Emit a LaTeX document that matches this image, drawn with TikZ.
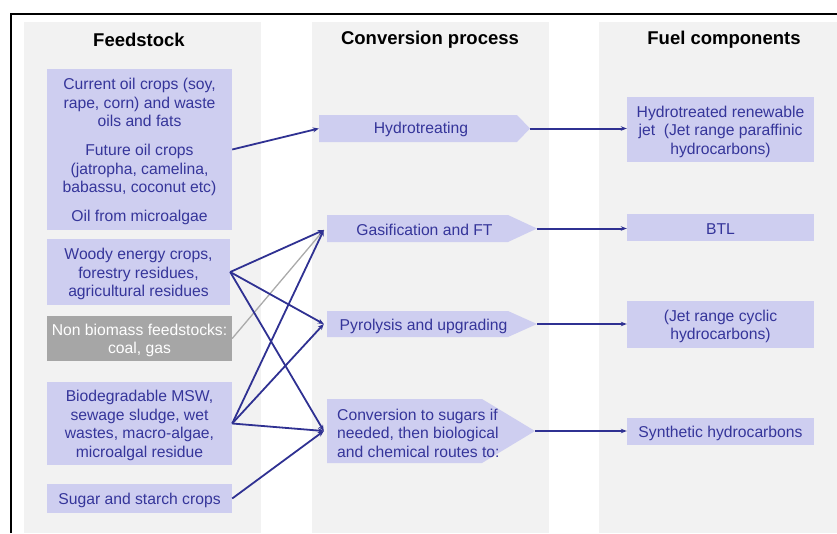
\documentclass[tikz,border=0pt]{standalone}
\usepackage{fontspec}
\setmainfont{Liberation Sans}
\usetikzlibrary{arrows.meta}
\definecolor{colbg}{HTML}{F2F2F2}
\definecolor{lav}{HTML}{CECEF0}
\definecolor{txtblue}{HTML}{35359A}
\definecolor{lineblue}{HTML}{2F3192}
\definecolor{nbgray}{HTML}{A6A6A6}
\definecolor{lgray}{HTML}{AAAAAA}
\begin{document}
\begin{tikzpicture}[x=1pt,y=-1pt,
  every node/.style={font=\fontsize{15.7}{18.5}\selectfont, inner sep=0pt},
  coltitle/.style={font=\bfseries\fontsize{18.5}{21}\selectfont, text=black},
  fbox/.style={fill=lav},
  nbbox/.style={fill=nbgray},
  ftxt/.style={text=txtblue, align=center, yshift=-2pt, inner sep=0pt},
  nbtxt/.style={text=white, align=center, yshift=-2pt, inner sep=0pt},
  ptext/.style={text=txtblue, align=left},
  pent/.style={path picture={\fill[lav] (path picture bounding box.south west) -- (path picture bounding box.north west) -- ([xshift=-#1]path picture bounding box.north east) -- (path picture bounding box.east) -- ([xshift=-#1]path picture bounding box.south east) -- cycle;}},
  conn/.style={draw=lineblue, line width=1.8pt, -{Stealth[length=6pt,width=5pt]}},
  flowconn/.style={draw=lineblue, line width=2pt, -{Stealth[length=6pt,width=4.5pt]}},
  grayconn/.style={draw=lgray, line width=1.3pt}
]
\useasboundingbox (0,0) rectangle (837,533);
% column backgrounds
\fill[colbg] (24,22) rectangle (261,533);
\fill[colbg] (312,22) rectangle (549,533);
\fill[colbg] (599,22) rectangle (837,533);
% frame
\draw[line width=2pt] (11,533) -- (11,14) -- (837,14);

% titles
\node[coltitle] (t1) at (139,40) {Feedstock};
\node[coltitle] (t2) at (430,40) {Conversion process};
\node[coltitle] (t3) at (724,40) {Fuel components};

% feedstock boxes
\node[fbox, minimum width=185pt, minimum height=161pt,
  label={[ftxt]center:{Current oil crops (soy,\\ rape, corn) and waste\\ oils and fats\\[10.5pt]
   Future oil crops\\ (jatropha, camelina,\\ babassu, coconut etc)\\[10.5pt]
   Oil from microalgae}}] (f1) at (139.5,149.5) {};
\node[fbox, minimum width=183pt, minimum height=66pt,
  label={[ftxt]center:{Woody energy crops,\\ forestry residues,\\ agricultural residues}}] (f2) at (138.5,272) {};
\node[nbbox, minimum width=185pt, minimum height=45pt,
  label={[nbtxt]center:{Non biomass feedstocks:\\ coal, gas}}] (f3) at (139.5,338.5) {};
\node[fbox, minimum width=185pt, minimum height=83pt,
  label={[ftxt]center:{Biodegradable MSW,\\ sewage sludge, wet\\ wastes, macro-algae,\\ microalgal residue}}] (f4) at (139.5,423.5) {};
\node[fbox, minimum width=185pt, minimum height=29pt,
  label={[ftxt]center:{Sugar and starch crops}}] (f5) at (139.5,498.5) {};

% conversion process shapes
\node[pent=13pt, minimum width=211pt, minimum height=27pt] (hyd) at (424.5,128.5) {};
\node[ptext] (hydt) at (421,129.5) {Hydrotreating};
\node[pent=29pt, minimum width=210pt, minimum height=27pt] (gas) at (432,228.5) {};
\node[ptext] (gast) at (424.5,229.5) {Gasification and FT};
\node[pent=29pt, minimum width=210pt, minimum height=26pt] (pyr) at (432,324) {};
\node[ptext] (pyrt) at (423.5,326) {Pyrolysis and upgrading};
\node[pent=53pt, minimum width=208pt, minimum height=64pt] (conv) at (431,431) {};
\node[ptext, anchor=west] (convt) at (337,433)
  {Conversion to sugars if\\ needed, then biological\\ and chemical routes to:};

% fuel components
\node[fbox, minimum width=187pt, minimum height=65pt,
  label={[ftxt]center:{Hydrotreated renewable\\ jet\ \ (Jet range paraffinic\\ hydrocarbons)}}] (r1) at (720.5,129.5) {};
\node[fbox, minimum width=187pt, minimum height=27pt,
  label={[ftxt]center:{BTL}}] (r2) at (720.5,227.5) {};
\node[fbox, minimum width=187pt, minimum height=47pt,
  label={[ftxt]center:{(Jet range cyclic\\ hydrocarbons)}}] (r3) at (720.5,324.5) {};
\node[fbox, minimum width=187pt, minimum height=27pt,
  label={[ftxt]center:{Synthetic hydrocarbons}}] (r4) at (720.5,431.5) {};

% connectors feedstock -> process
\draw[grayconn] (f3.east) -- ([xshift=-3pt,yshift=-1.5pt]gas.west);
\draw[conn] (f1.east) -- (hyd.west);
\draw[conn] (f2.east) -- ([xshift=-3pt,yshift=-1.5pt]gas.west);
\draw[conn] (f2.east) -- ([xshift=-3pt]pyr.west);
\draw[conn] (f2.east) -- ([xshift=-3pt]conv.west);
\draw[conn] (f4.east) -- ([xshift=-3pt,yshift=-1.5pt]gas.west);
\draw[conn] (f4.east) -- ([xshift=-3pt]pyr.west);
\draw[conn] (f4.east) -- ([xshift=-3pt]conv.west);
\draw[conn] (f5.east) -- ([xshift=-3pt]conv.west);

% connectors process -> fuel
\draw[flowconn] (hyd.east) -- (hyd.east -| r1.west);
\draw[flowconn] (gas.east) -- (gas.east -| r2.west);
\draw[flowconn] (pyr.east) -- (pyr.east -| r3.west);
\draw[flowconn] (conv.east) -- (conv.east -| r4.west);
\end{tikzpicture}
\end{document}
